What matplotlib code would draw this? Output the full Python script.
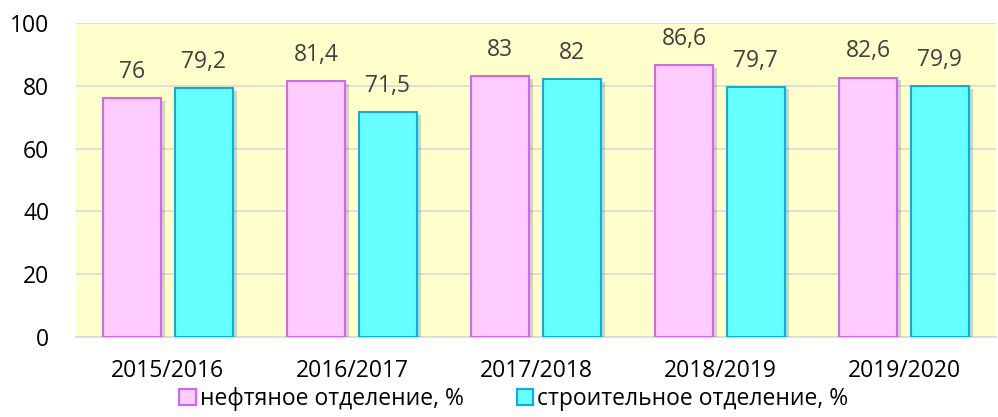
import numpy as np
import matplotlib.pyplot as plt
import matplotlib.patheffects as pe
from matplotlib.patches import Patch

plt.rcParams['font.family'] = ['Open Sans', 'DejaVu Sans']

years = ['2015/2016', '2016/2017', '2017/2018', '2018/2019', '2019/2020']
oil = [76, 81.4, 83, 86.6, 82.6]
build = [79.2, 71.5, 82, 79.7, 79.9]
labels = ['нефтяное отделение, %', 'строительное отделение, %']


def fmt(v):
    return f'{v:g}'.replace('.', ',')


fig = plt.figure(figsize=(9.98, 4.17), dpi=100)
ax = fig.add_axes([0.076, 0.192, 0.922, 0.753])
ax.set_facecolor('#FFFFCC')

x = np.arange(len(years))
w = 0.315
shadow = [pe.SimplePatchShadow(offset=(3, -2), alpha=0.22), pe.Normal()]

b1 = ax.bar(x - 0.195, oil, w, color='#FFCCFF', edgecolor='#CC66FF', linewidth=1.5,
            zorder=3, path_effects=shadow)
b2 = ax.bar(x + 0.195, build, w, color='#66FFFF', edgecolor='#00B0F0', linewidth=1.5,
            zorder=3, path_effects=shadow)

for bars, vals in ((b1, oil), (b2, build)):
    for r, v in zip(bars, vals):
        ax.text(r.get_x() + r.get_width() / 2, v + 4.5, fmt(v), ha='center', va='bottom',
                fontsize=16.5, color='#404040')

ax.set_ylim(0, 100)
ax.set_xlim(-0.5, 4.5)
ax.set_yticks(range(0, 101, 20))
ax.set_xticks(x)
ax.set_xticklabels(years)
ax.tick_params(axis='both', length=0, labelsize=16.5, colors='black')
ax.tick_params(axis='x', pad=16)
ax.tick_params(axis='y', pad=19)
ax.grid(axis='y', color='#D9D9D9', linewidth=1.2, zorder=0)
ax.set_axisbelow(True)
for s in ['top', 'right', 'left']:
    ax.spines[s].set_visible(False)
ax.spines['bottom'].set_color('#D9D9D9')
ax.spines['bottom'].set_linewidth(1.2)

handles = [Patch(facecolor='#FFCCFF', edgecolor='#CC66FF', linewidth=1.5),
           Patch(facecolor='#66FFFF', edgecolor='#00B0F0', linewidth=1.5)]
fig.legend(handles, labels, loc='lower center', bbox_to_anchor=(0.515, -0.035), ncol=2,
           frameon=False, fontsize=16.5, handlelength=0.7, handleheight=0.7,
           handletextpad=0.2, columnspacing=2.3)

fig.savefig('out.png', dpi=100)
